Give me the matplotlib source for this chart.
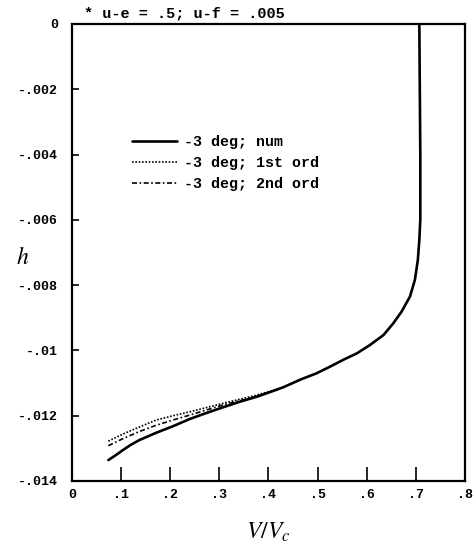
import numpy as np
import matplotlib as mpl
mpl.use('Agg')
import matplotlib.pyplot as plt

# Free-surface height h against V/Vc, -3 deg slope
v_num = [0.074, 0.090, 0.104, 0.120, 0.138, 0.155, 0.172, 0.206, 0.240, 0.275,
         0.308, 0.340, 0.376, 0.410, 0.430, 0.464, 0.498, 0.525, 0.552, 0.580,
         0.607, 0.634, 0.654, 0.671, 0.688, 0.698, 0.704, 0.707, 0.709, 0.709,
         0.708, 0.707]
h_num = [-0.01336, -0.01320, -0.01305, -0.01289, -0.01274, -0.01263, -0.01252,
         -0.01232, -0.01210, -0.01191, -0.01174, -0.01158, -0.01142, -0.01124,
         -0.01113, -0.01090, -0.01070, -0.01050, -0.01029, -0.01009, -0.00983,
         -0.00953, -0.00917, -0.00881, -0.00835, -0.00784, -0.00723, -0.00662,
         -0.00600, -0.00400, -0.00200, 0.0]

v_1st = [0.074, 0.104, 0.138, 0.172, 0.206, 0.240, 0.308, 0.376, 0.430]
h_1st = [-0.01278, -0.01256, -0.01234, -0.01213, -0.01200, -0.01188, -0.01162,
         -0.01137, -0.01113]

v_2nd = [0.074, 0.104, 0.138, 0.172, 0.206, 0.240, 0.308, 0.376, 0.430]
h_2nd = [-0.01292, -0.01270, -0.01248, -0.01229, -0.01213, -0.01198, -0.01167,
         -0.01141, -0.01113]

xticks = [0, 0.1, 0.2, 0.3, 0.4, 0.5, 0.6, 0.7, 0.8]
xtick_labels = ['0', '.1', '.2', '.3', '.4', '.5', '.6', '.7', '.8']
yticks = [0, -0.002, -0.004, -0.006, -0.008, -0.01, -0.012, -0.014]
ytick_labels = ['0', '-.002', '-.004', '-.006', '-.008', '-.01', '-.012', '-.014']

mono = ['Liberation Mono', 'DejaVu Sans Mono']
plt.rcParams['mathtext.fontset'] = 'stix'

fig = plt.figure(figsize=(4.73, 5.48), dpi=100)
ax = fig.add_axes([0.1522, 0.1223, 0.8309, 0.834])

ax.plot(v_num, h_num, color='black', lw=1.9, solid_capstyle='round',
        solid_joinstyle='round', label='-3 deg; num')
ax.plot(v_1st, h_1st, color='black', lw=1.2, linestyle=(0, (1, 1)),
        label='-3 deg; 1st ord')
ax.plot(v_2nd, h_2nd, color='black', lw=1.2, linestyle=(0, (3, 1.5, 1, 1.5)),
        label='-3 deg; 2nd ord')

ax.set_xlim(0, 0.8)
ax.set_ylim(-0.014, 0)
ax.set_xticks(xticks)
ax.set_xticklabels(xtick_labels, family=mono, weight='bold', fontsize=9.5)
ax.set_yticks(yticks)
ax.set_yticklabels(ytick_labels, family=mono, weight='bold', fontsize=9.5)
ax.tick_params(axis='x', direction='in', length=10, width=1.2, pad=6)
ax.tick_params(axis='y', direction='in', length=5, width=1.2, pad=10)
for s in ax.spines.values():
    s.set_linewidth(1.6)

ax.set_xlabel(r'$V/V_c$', fontsize=17)
ax.xaxis.set_label_coords(0.5, -0.085)
ax.set_ylabel(r'$h$', fontsize=17, rotation=0, va='center')
ax.yaxis.set_label_coords(-0.125, 0.49)

ax.text(0.03, 1.008, '* u-e = .5; u-f = .005', transform=ax.transAxes,
        family=mono, weight='bold', fontsize=11, va='bottom', ha='left')

ax.legend(loc='upper left', bbox_to_anchor=(0.118, 0.786), frameon=False,
          prop={'family': mono, 'weight': 'bold', 'size': 10.8},
          handlelength=3.0, handletextpad=0.5, labelspacing=0.45)

plt.savefig('out.png', dpi=100)
